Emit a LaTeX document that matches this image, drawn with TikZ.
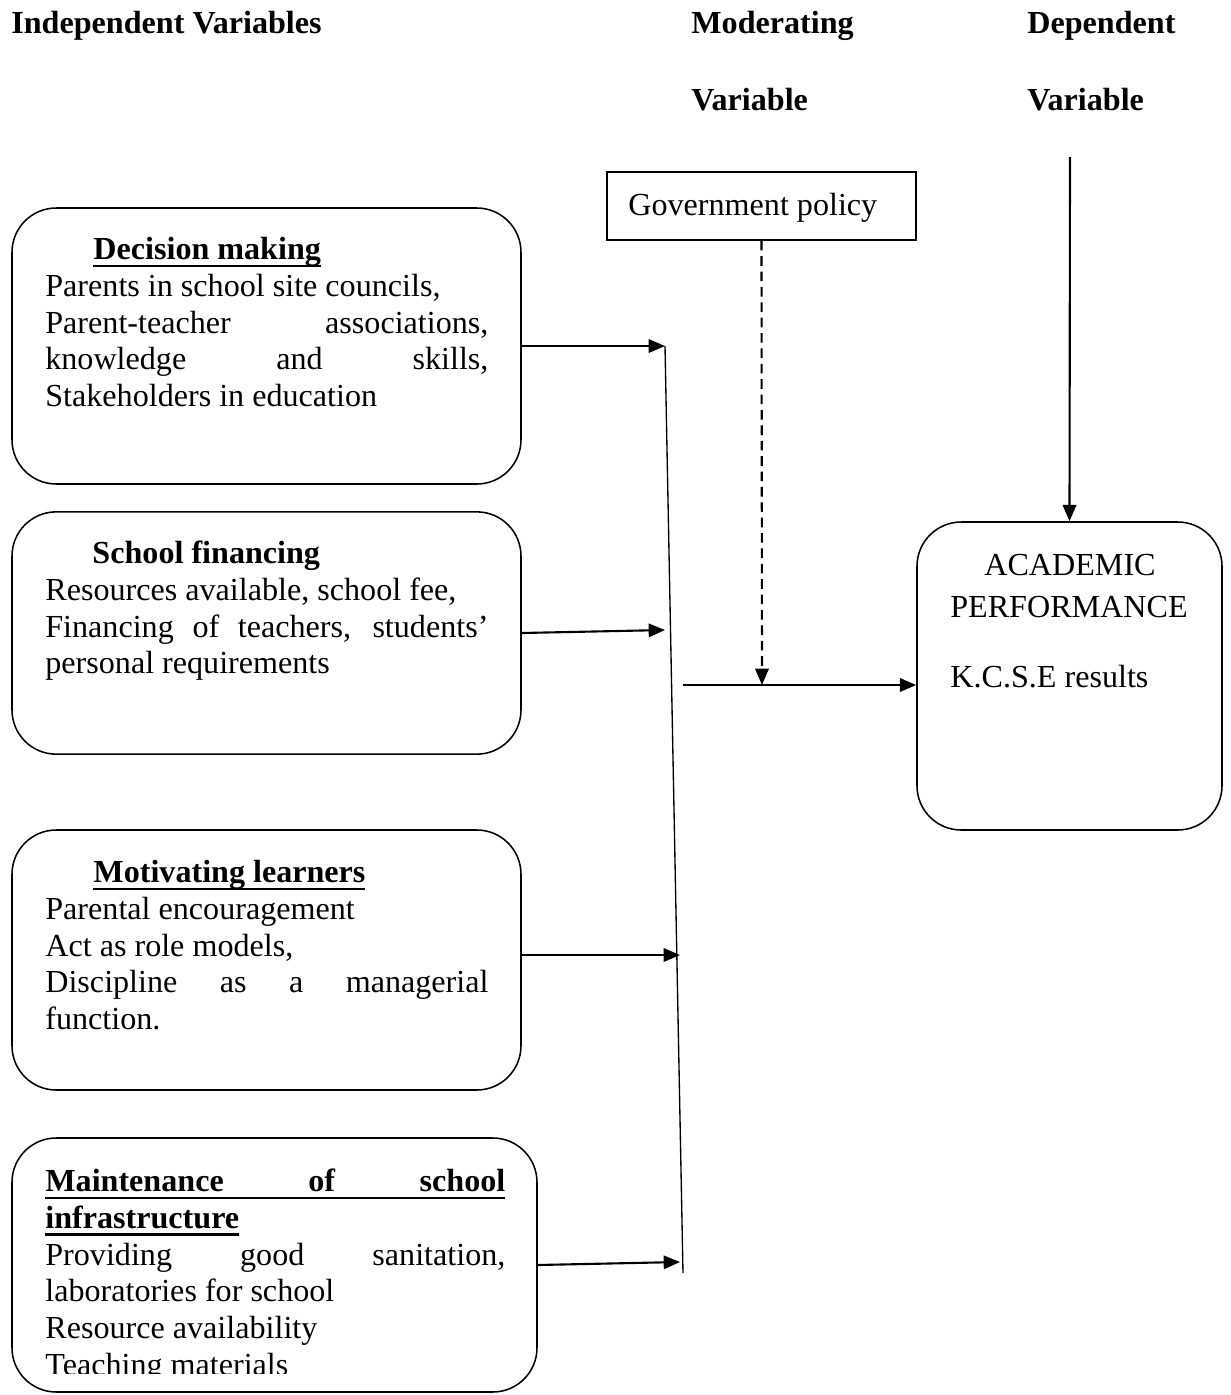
\documentclass[tikz,border=0pt]{standalone}
\usepackage{fontspec}
\setmainfont{Liberation Serif}
\usetikzlibrary{arrows.meta}
\newsavebox\myulbox
\newcommand\myul[1]{\sbox\myulbox{#1}\rlap{\rule[-4.2pt]{\wd\myulbox}{1.5pt}}\usebox\myulbox}
\begin{document}
\begin{tikzpicture}[x=0.52pt,y=-0.52pt,
  box/.style={draw, line width=0.8pt, rounded corners=23pt, inner sep=0pt},
  txt/.style={anchor=north west, inner sep=0pt, text width=230.4pt, align=justify, font=\fontsize{16.7}{19.14}\selectfont},
  plain/.style={inner sep=0pt, font=\fontsize{16.7}{19.14}\selectfont},
  hdr/.style={anchor=base west, inner sep=0pt, font=\fontsize{16.7}{19.14}\selectfont\bfseries},
  arr/.style={-{Triangle[length=8.5pt,width=7pt]}, line width=1.1pt}]
\useasboundingbox (0,0) rectangle (1231,1395);

% headers
\node[hdr] (h1) at (11,33) {Independent Variables};
\node[hdr] (h2) at (691,33) {Moderating};
\node[hdr] (h3) at (691,110) {Variable};
\node[hdr] (h4) at (1027,33) {Dependent};
\node[hdr] (h5) at (1027,110) {Variable};

% independent boxes
\node[box, minimum width=264.68pt, minimum height=143.52pt] (dec) at (266.5,346) {};
\node[txt] (dectxt) at (45,234) {\rule{0pt}{13pt}\hspace*{25pt}\myul{\textbf{Decision making}}\\
Parents in school site councils,\\
\makebox[\linewidth][s]{Parent-teacher associations,}\\
\makebox[\linewidth][s]{knowledge and skills,}\\
Stakeholders in education};

\node[box, minimum width=264.68pt, minimum height=126pt] (fin) at (266.5,633) {};
\node[txt] (fintxt) at (45,538) {\rule{0pt}{13pt}\hspace*{24.5pt}\textbf{School financing}\\
Resources available, school fee,\\
\makebox[\linewidth][s]{Financing of teachers, students'}\\
personal requirements};

\node[box, minimum width=264.68pt, minimum height=135.2pt] (mot) at (266.5,960) {};
\node[txt] (mottxt) at (45,857) {\rule{0pt}{13pt}\hspace*{25pt}\myul{\textbf{Motivating learners}}\\
Parental encouragement\\
Act as role models,\\
\makebox[\linewidth][s]{Discipline as a managerial}\\
function.};

\node[box, minimum width=273pt, minimum height=132.08pt] (mnt) at (274.5,1265) {};
\begin{scope}
\clip (0,0) rectangle (1231,1373);
\node[txt, text width=239.2pt] (mnttxt) at (45,1166) {\rule{0pt}{13pt}\myul{\makebox[\linewidth][s]{\textbf{Maintenance of school}}}\\
\myul{\textbf{infrastructure}}\\
\makebox[\linewidth][s]{Providing good sanitation,}\\
laboratories for school\\
Resource availability\\
Teaching materials};
\end{scope}

% moderating
\node[draw, line width=0.8pt, inner sep=0pt, minimum width=160.68pt, minimum height=35.36pt] (gov) at (761.5,206) {};
\node[plain, anchor=base west] (govtxt) at (628,215) {Government policy};

% dependent
\node[box, rounded corners=23pt, minimum width=158.6pt, minimum height=160.16pt] (acad) at (1069.5,676) {};
\node[plain, anchor=base] (acad1) at (1070,575) {ACADEMIC};
\node[plain, anchor=base] (acad2) at (1069,617) {PERFORMANCE};
\node[plain, anchor=base west] (acad3) at (950,687) {K.C.S.E results};

% coordinates
\coordinate (t1) at (665,346);
\coordinate (t2) at (665,630);
\coordinate (t3) at (680,955);
\coordinate (t4) at (680,1262);
\coordinate (vtop) at (665,346);
\coordinate (vbot) at (683,1273);
\coordinate (hstart) at (683,685);
\coordinate (meet) at (762,685);
\coordinate (dtop) at (1070,157);

% connectors
\draw[arr] (dec.east) -- (t1);
\draw[arr] (fin.east) -- (t2);
\draw[arr] (mot.east |- t3) -- (t3);
\draw[arr] (mnt.east) -- (t4);
\draw[line width=0.7pt] (vtop) -- (vbot);
\draw[arr] (hstart) -- (acad.west |- hstart);
\draw[arr, dash pattern=on 5pt off 3pt] (gov.south) -- (meet);
\draw[arr] (dtop) -- (acad.north);
\end{tikzpicture}
\end{document}
